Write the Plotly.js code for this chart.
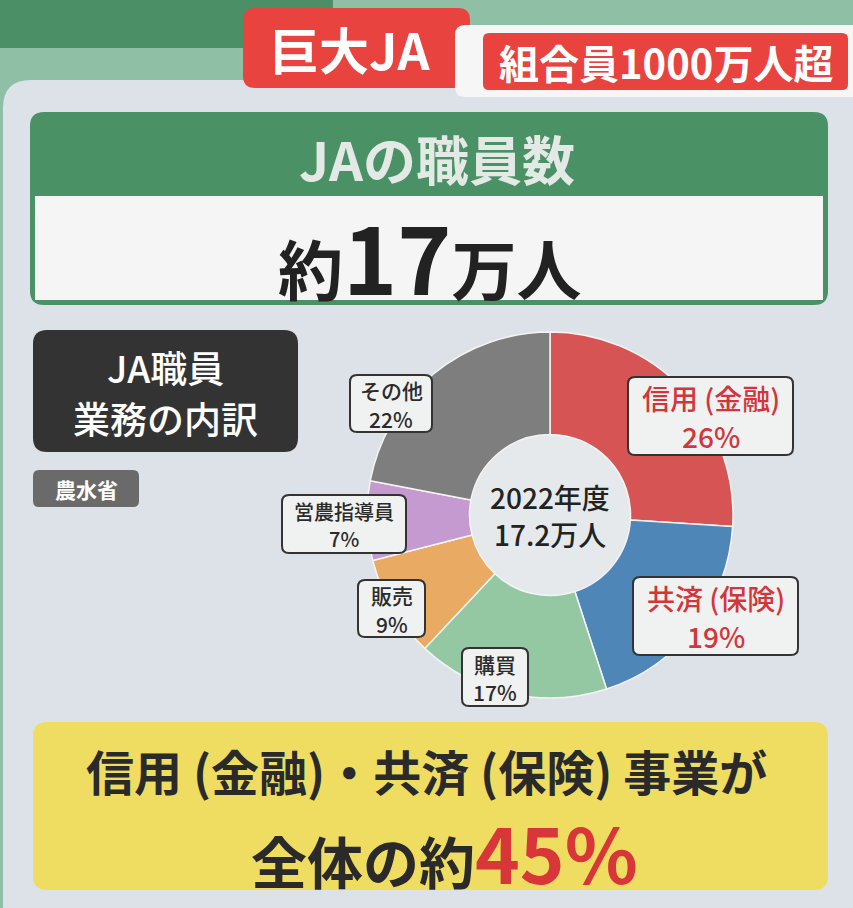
<!DOCTYPE html>
<html><head><meta charset="utf-8">
<script src="https://cdn.plot.ly/plotly-3.0.1.min.js"></script>
<style>html,body{margin:0;padding:0;background:#dde2e8;}#chart{width:853px;height:908px;}</style>
</head><body><div id="chart"></div>
<script>
// ---- data ----
const categories = ['信用(金融)', '共済(保険)', '購買', '販売', '営農指導員', 'その他'];
const shares = [26, 19, 17, 9, 7, 22];
const year = '2022年度';
const totalStaff = '17.2万人';
const combinedShare = 45;

// ---- styles ----
const W = 853, H = 908;
const FONT = '"Noto Sans CJK JP", "Noto Sans", sans-serif';
const sliceColors = ['#d65453', '#4f86b8', '#94c8a3', '#e9aa63', '#c49ad0', '#7e7e7e'];
const px = x => x / W;
const py = y => 1 - y / H;

function rr(x0, y0, x1, y1, r) {
  const P = (x, y) => px(x) + ',' + py(y);
  return 'M' + P(x0 + r, y0) + ' L' + P(x1 - r, y0) + ' Q' + P(x1, y0) + ' ' + P(x1, y0 + r) +
    ' L' + P(x1, y1 - r) + ' Q' + P(x1, y1) + ' ' + P(x1 - r, y1) +
    ' L' + P(x0 + r, y1) + ' Q' + P(x0, y1) + ' ' + P(x0, y1 - r) +
    ' L' + P(x0, y0 + r) + ' Q' + P(x0, y0) + ' ' + P(x0 + r, y0) + ' Z';
}
function rect(x0, y0, x1, y1, fill, layer) {
  return {type: 'rect', xref: 'paper', yref: 'paper', x0: px(x0), x1: px(x1), y0: py(y1), y1: py(y0),
    fillcolor: fill, line: {width: 0}, layer: layer || 'below'};
}
function rpath(x0, y0, x1, y1, r, fill, lineColor, lw, layer) {
  return {type: 'path', xref: 'paper', yref: 'paper', path: rr(x0, y0, x1, y1, r), fillcolor: fill,
    line: {color: lineColor || fill, width: lw || 0}, layer: layer || 'below'};
}
function ann(x, y, text, size, color, weight) {
  return {xref: 'paper', yref: 'paper', x: px(x), y: py(y), xanchor: 'center', yanchor: 'middle',
    showarrow: false, text: text, font: {family: FONT, size: size, color: color, weight: weight || 700}};
}

const shapes = [
  rect(0, 0, W, H, '#8fc0a6'),
  rect(0, 0, 333, 48, '#4b8f66'),
  rpath(3, 80, W + 40, H + 40, 28, '#dde2e8'),
  // top tags
  rpath(243, 8, 470, 88, 12, '#e8433f'),
  rpath(455, 25, W + 20, 97, 10, '#f6f6f6'),
  rpath(483, 33, 848, 90, 6, '#e8433f'),
  // title box
  rpath(30, 112, 828, 305, 14, '#4b9166'),
  rect(35, 196, 823, 300, '#f4f5f4'),
  // dark box + source
  rpath(33, 330, 298, 452, 14, '#333333'),
  rpath(33, 470, 139, 507, 6, '#6a6a6a'),
  // yellow box
  rpath(33, 722, 828, 890, 14, '#eedd60'),
  // lighter donut centre
  {type: 'circle', xref: 'paper', yref: 'paper', x0: px(470), x1: px(630), y0: py(595), y1: py(435),
    fillcolor: '#e6e9ec', line: {width: 0}, layer: 'below'}
];

// label boxes (above pie)
const boxes = [
  [628, 377, 793, 455],
  [633, 577, 798, 655],
  [462, 648, 528, 706],
  [358, 580, 425, 637],
  [282, 495, 406, 553],
  [350, 375, 432, 432]
];
boxes.forEach(b => shapes.push(rpath(b[0], b[1], b[2], b[3], 7, '#f0f1f1', '#333333', 2, 'above')));

const labelColors = ['#d2363a', '#d2363a', '#2b2b2b', '#2b2b2b', '#2b2b2b', '#2b2b2b'];
const labelSizes = [28, 28, 21, 21, 20, 21];
const annotations = [
  ann(349, 48, '巨大JA', 50, '#ffffff'),
  ann(666, 62, '組合員1000万人超', 40, '#ffffff'),
  ann(437, 158, 'JAの職員数', 53, '#e3e9e5'),
  ann(430, 254, '<span style="font-size:65px">約</span><span style="font-size:92px">17</span><span style="font-size:65px">万人</span>', 65, '#222222'),
  ann(165, 367, 'JA職員', 37, '#ffffff', 500),
  ann(165, 418, '業務の内訳', 37, '#ffffff', 500),
  ann(86, 489, '農水省', 21, '#ffffff'),
  ann(550, 497, year, 28, '#222222', 500),
  ann(550, 534, totalStaff, 28, '#222222', 500),
  ann(426, 770, '信用 (金融)・共済 (保険) 事業が', 48, '#2a2a2a'),
  ann(444, 851, '全体の約<span style="font-size:76px;color:#d9363a">' + combinedShare + '%</span>', 56, '#2a2a2a')
];
boxes.forEach((b, i) => {
  const cx = (b[0] + b[2]) / 2, cy = (b[1] + b[3]) / 2;
  const s = labelSizes[i];
  const half = s * 0.69;
  annotations.push(ann(cx, cy - half + 1, categories[i].replace('(', ' ('), s, labelColors[i], 500));
  annotations.push(ann(cx, cy + half + 1, shares[i] + '%', s, labelColors[i], 500));
});

const trace = {
  type: 'pie',
  labels: categories,
  values: shares,
  sort: false,
  direction: 'clockwise',
  rotation: 0,
  hole: 0.44,
  textinfo: 'none',
  hoverinfo: 'label+percent',
  marker: {colors: sliceColors, line: {color: '#f4f4f4', width: 1.5}},
  domain: {x: [px(367), px(733)], y: [py(698), py(332)]},
  showlegend: false
};

Plotly.newPlot('chart', [trace], {
  width: W, height: H,
  margin: {l: 0, r: 0, t: 0, b: 0},
  paper_bgcolor: '#dde2e8',
  plot_bgcolor: 'rgba(0,0,0,0)',
  font: {family: FONT},
  shapes: shapes,
  annotations: annotations,
  showlegend: false
}, {displayModeBar: false, staticPlot: true});
</script></body></html>
